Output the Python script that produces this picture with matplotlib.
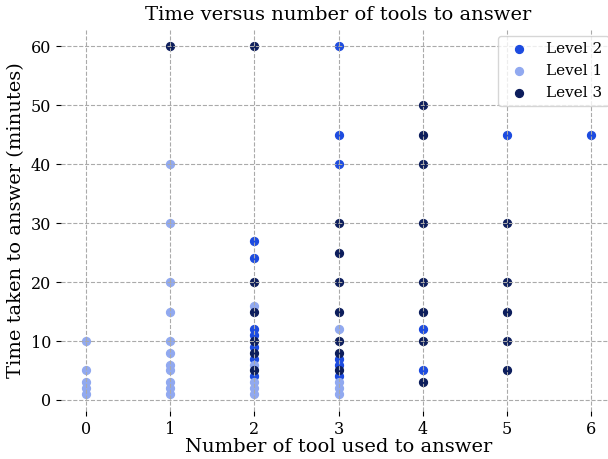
import matplotlib
matplotlib.use("Agg")
import matplotlib.pyplot as plt

# ---- data (tools used, minutes) ----
level2_tools = [2, 2, 2, 2, 2, 2, 2, 3, 3, 3, 3, 3, 3, 4, 4, 5, 6]
level2_time = [27, 24, 12, 11, 9, 7, 4, 60, 45, 40, 7, 6, 4, 12, 5, 45, 45]

level1_tools = [0, 0, 0, 0, 0,
                1, 1, 1, 1, 1, 1, 1, 1, 1, 1, 1,
                2, 2, 2, 2, 2,
                3, 3, 3, 3]
level1_time = [10, 5, 3, 2, 1,
               40, 30, 20, 15, 10, 8, 6, 5, 3, 2, 1,
               16, 6, 3, 2, 1,
               12, 3, 2, 1]

level3_tools = [1,
                2, 2, 2, 2, 2, 2,
                3, 3, 3, 3, 3, 3, 3,
                4, 4, 4, 4, 4, 4, 4, 4,
                5, 5, 5, 5, 5]
level3_time = [60,
               60, 20, 15, 10, 8, 5,
               30, 25, 20, 15, 10, 8, 5,
               50, 45, 40, 30, 20, 15, 10, 3,
               30, 20, 15, 10, 5]

plt.rcParams['font.family'] = 'DejaVu Serif'

fig = plt.figure(figsize=(6.08, 4.59), dpi=100)
ax = fig.add_axes([0.0998, 0.1035, 0.914, 0.834])

ax.scatter(level2_tools, level2_time, color='#1c4be0', s=32, label='Level 2')
ax.scatter(level1_tools, level1_time, color='#91a9f0', s=32, label='Level 1')
ax.scatter(level3_tools, level3_time, color='#0c1d5c', s=32, label='Level 3')

ax.set_axisbelow(False)
ax.grid(True, linestyle='--', color='#aaaaaa', linewidth=0.8)
for s in ax.spines.values():
    s.set_visible(False)

ax.set_xticks(range(0, 7))
ax.set_yticks(range(0, 61, 10))
ax.tick_params(labelsize=11.5)

ax.set_title('Time versus number of tools to answer', fontsize=14)
ax.set_xlabel('Number of tool used to answer', fontsize=14, labelpad=0)
ax.set_ylabel('Time taken to answer (minutes)', fontsize=14)
ax.legend(loc='upper right', fontsize=11)

fig.savefig('out.png', dpi=100)
